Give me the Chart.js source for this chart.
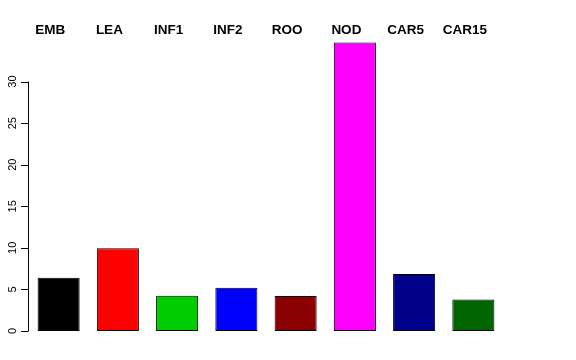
<!DOCTYPE html>
<html>
<head>
<meta charset="utf-8">
<script src="https://cdn.jsdelivr.net/npm/chart.js@4"></script>
<style>
  html, body { margin: 0; padding: 0; background: #fff; }
  #wrap { width: 576px; height: 360px; }
</style>
</head>
<body>
<div id="wrap"><canvas id="barChart"></canvas></div>
<script>
// data
const categories = ['EMB', 'LEA', 'INF1', 'INF2', 'ROO', 'NOD', 'CAR5', 'CAR15'];
const values = [6.4, 9.95, 4.25, 5.2, 4.2, 34.7, 6.85, 3.8];
const barColors = ['#000000', '#FF0000', '#00CD00', '#0000FF', '#8B0000', '#FF00FF', '#00008B', '#006400'];
const yTicks = [0, 5, 10, 15, 20, 25, 30];

// R style axes: left axis line only spans the ticks, labels rotated,
// category names written above the plot (slightly left of bar centre)
const rAxisPlugin = {
    id: 'rAxis',
    afterDraw(chart) {
        const ctx = chart.ctx;
        const x = chart.scales.x;
        const y = chart.scales.y;
        const axisX = chart.chartArea.left - 1;
        ctx.save();
        ctx.strokeStyle = '#000';
        ctx.lineWidth = 1;
        ctx.beginPath();
        ctx.moveTo(axisX + 0.5, y.getPixelForValue(yTicks[0]));
        ctx.lineTo(axisX + 0.5, y.getPixelForValue(yTicks[yTicks.length - 1]));
        yTicks.forEach(t => {
            const py = Math.round(y.getPixelForValue(t)) + 0.5;
            ctx.moveTo(axisX - 7, py);
            ctx.lineTo(axisX + 0.5, py);
        });
        ctx.stroke();

        ctx.fillStyle = '#000';
        ctx.font = '11px "Liberation Sans", Arial, sans-serif';
        ctx.textAlign = 'center';
        ctx.textBaseline = 'middle';
        yTicks.forEach(t => {
            ctx.save();
            ctx.translate(axisX - 15, y.getPixelForValue(t));
            ctx.rotate(-Math.PI / 2);
            ctx.fillText(String(t), 0, 0);
            ctx.restore();
        });

        ctx.font = 'bold 13.5px "Liberation Sans", Arial, sans-serif';
        ctx.textBaseline = 'alphabetic';
        categories.forEach((c, i) => {
            ctx.fillText(c, x.getPixelForValue(i) - 8.5, 34);
        });
        ctx.restore();
    }
};

document.addEventListener('DOMContentLoaded', function () {
    const ctx = document.getElementById('barChart').getContext('2d');
    new Chart(ctx, {
        type: 'bar',
        data: {
            labels: categories,
            datasets: [{
                data: values,
                backgroundColor: barColors,
                borderColor: '#000',
                borderWidth: 1,
                borderSkipped: false,
                barPercentage: 0.71,
                categoryPercentage: 1.0
            }]
        },
        options: {
            responsive: true,
            maintainAspectRatio: false,
            animation: false,
            layout: {
                padding: { left: 29, right: 73, top: 40, bottom: 29 }
            },
            plugins: {
                legend: { display: false },
                tooltip: { enabled: false }
            },
            scales: {
                x: { display: false },
                y: {
                    display: false,
                    min: 0,
                    max: 35
                }
            }
        },
        plugins: [rAxisPlugin]
    });
});
</script>
</body>
</html>
